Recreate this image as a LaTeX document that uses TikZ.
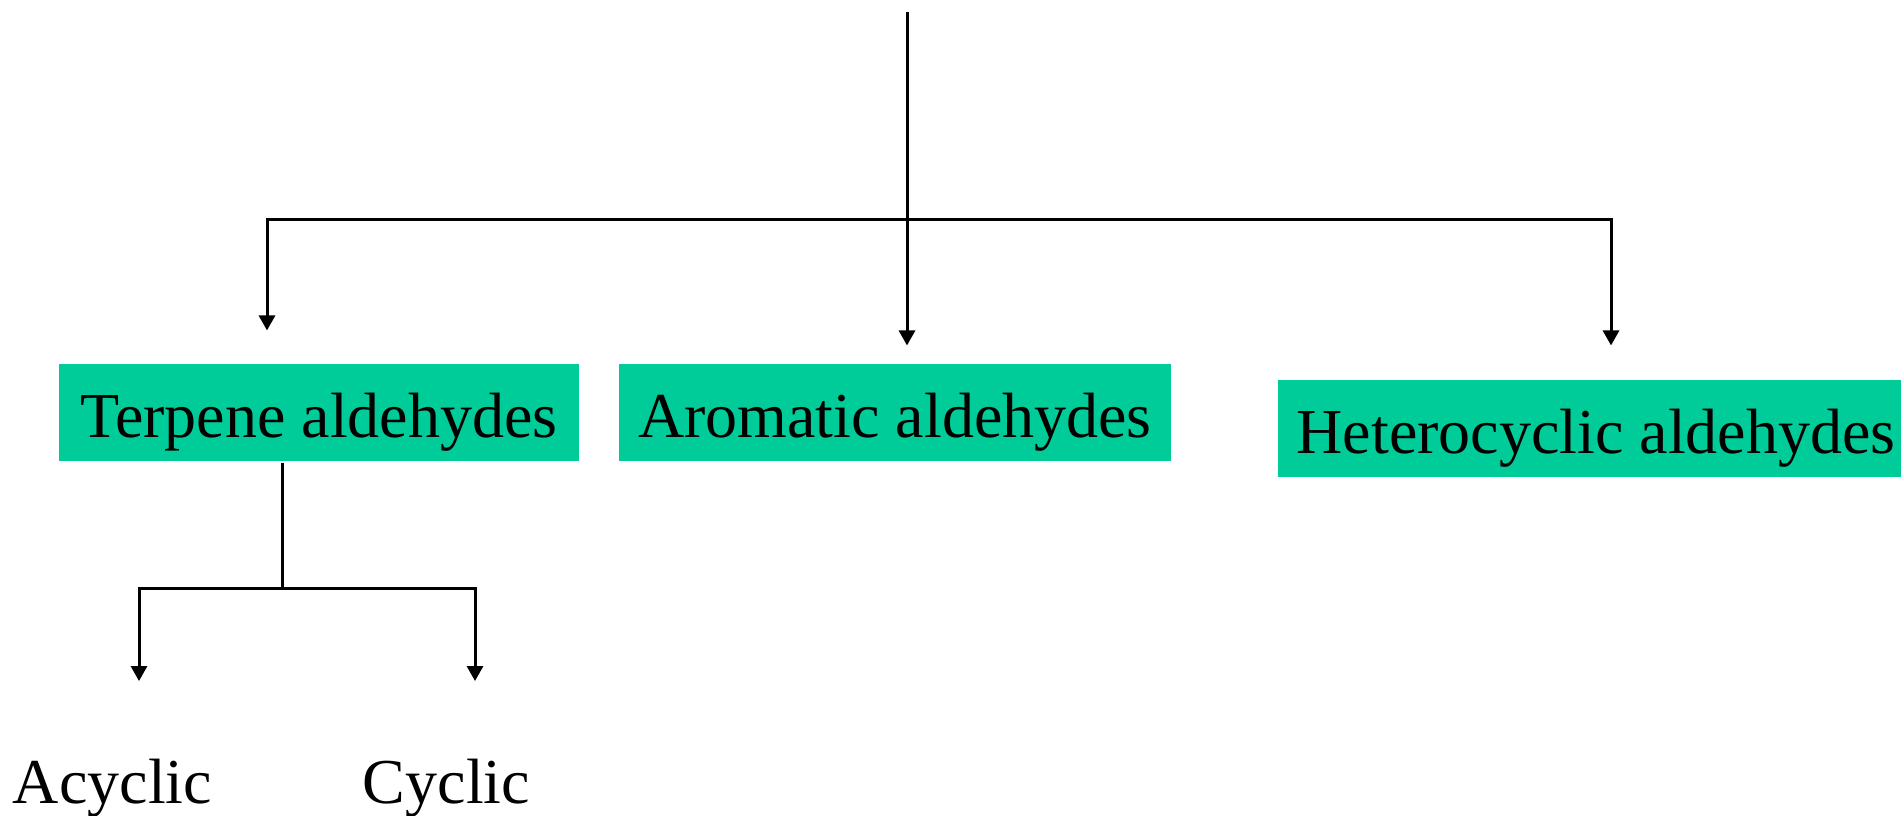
\documentclass[tikz,border=0pt]{standalone}
\usepackage{fontspec}
\setmainfont{Liberation Serif}
\usetikzlibrary{arrows.meta}
\definecolor{boxgreen}{RGB}{0,204,153}
\tikzset{
  classbox/.style={fill=boxgreen, inner sep=0pt, minimum height=0.97cm,
    text height=0.6cm, text depth=0.11cm, font=\fontsize{18.2}{22}\selectfont},
  leaf/.style={anchor=base, inner sep=0pt, font=\fontsize{18.2}{22}\selectfont},
  branch/.style={-{Triangle[width=0.16cm,length=0.15cm]}}
}
\begin{document}
\begin{tikzpicture}[x=0.01cm, y=-0.01cm, line width=0.03cm]
      \useasboundingbox (0,0) rectangle (1901,816);
      \draw
        (319,412.5) node[classbox, minimum width=5.2cm] (terpene){Terpene aldehydes}
        (895,412.5) node[classbox, minimum width=5.52cm] (aromatic){Aromatic aldehydes}
        (1596,428.5) node[classbox, minimum width=6.36cm] (hetero){Heterocyclic aldehydes}
        (112.5,803) node[leaf] (acyclic){Acyclic}
        (446.5,803) node[leaf] (cyclic){Cyclic};
      \coordinate (top) at (907,12);
      \coordinate (bus) at (907,220);
      \coordinate (busl) at (267,220);
      \coordinate (busr) at (1611,220);
      \coordinate (split) at (282,588);
      \coordinate (splitl) at (139,588);
      \coordinate (splitr) at (475,588);
      \begin{scope}[branch]
        \draw (bus) -- (bus |- aromatic.north) [shorten >=0.17cm];
        \draw[shorten >=0.32cm] (bus) -| (busl |- terpene.north);
        \draw[shorten >=0.33cm] (bus) -| (busr |- hetero.north);
        \draw[shorten >=0.76cm] (split) -| (splitl |- acyclic.north);
        \draw[shorten >=0.76cm] (split) -| (splitr |- cyclic.north);
      \end{scope}
      \draw (top) to (bus);
      \draw (terpene.south -| split) to (split);
    \end{tikzpicture}
\end{document}
